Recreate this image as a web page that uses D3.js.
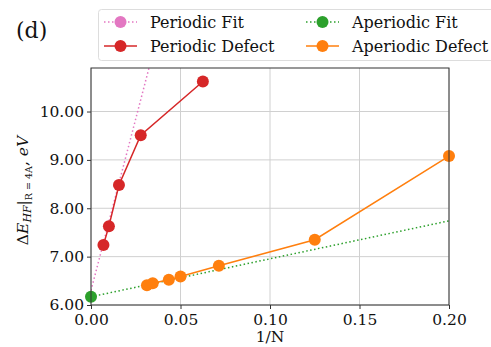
<!DOCTYPE html>
<html>
<head>
<meta charset="utf-8">
<script src="https://cdn.jsdelivr.net/npm/d3@7"></script>
<style>
  body { margin: 0; background: #fff; }
  svg { display: block; font-family: "DejaVu Serif", serif; }
</style>
</head>
<body>
<svg id="chart" width="491" height="347"></svg>
<script>
// Inverse system size 1/N and HF gap at R = 4A
const periodicInvN = [1/144, 1/100, 1/64, 1/36, 1/16];
const periodicGap = [7.24, 7.63, 8.48, 9.51, 10.62];
const aperiodicInvN = [1/32, 1/29, 1/23, 1/20, 1/14, 1/8, 1/5];
const aperiodicGap = [6.41, 6.45, 6.52, 6.59, 6.81, 7.35, 9.08];
// Linear extrapolations to 1/N -> 0: [intercept, slope]
const periodicFit = [6.30, 142];
const aperiodicFit = [6.17, 7.85];
const xTicks = [0, 0.05, 0.10, 0.15, 0.20];
const yTicks = [6, 7, 8, 9, 10];

const svg = d3.select("#chart");
const m = { left: 91, right: 449, top: 68, bottom: 305 };
const x = d3.scaleLinear().domain([0, 0.2]).range([m.left, m.right]);
const y = d3.scaleLinear().domain([6.0, 10.9]).range([m.bottom, m.top]);

const colors = { pFit: "#e377c2", pDef: "#d62728", aFit: "#2ca02c", aDef: "#ff7f0e" };

svg.append("defs").append("clipPath").attr("id", "plotclip")
  .append("rect").attr("x", m.left).attr("y", m.top)
  .attr("width", m.right - m.left).attr("height", m.bottom - m.top);

// grid
const grid = svg.append("g");
grid.selectAll(".gx").data(xTicks).join("line")
  .attr("x1", d => x(d)).attr("x2", d => x(d)).attr("y1", m.top).attr("y2", m.bottom)
  .attr("stroke", "#d0d0d0").attr("stroke-width", 1);
grid.selectAll(".gy").data(yTicks).join("line")
  .attr("y1", d => y(d)).attr("y2", d => y(d)).attr("x1", m.left).attr("x2", m.right)
  .attr("stroke", "#d0d0d0").attr("stroke-width", 1);

const plot = svg.append("g").attr("clip-path", "url(#plotclip)");
const line = d3.line().x(d => x(d[0])).y(d => y(d[1]));

// fit lines
const fitPts = f => [[0, f[0]], [0.2, f[0] + f[1] * 0.2]];
plot.append("path").datum(fitPts(periodicFit)).attr("d", line)
  .attr("fill", "none").attr("stroke", colors.pFit).attr("stroke-width", 1.5).attr("stroke-dasharray", "1.5,2.5");
plot.append("path").datum(fitPts(aperiodicFit)).attr("d", line)
  .attr("fill", "none").attr("stroke", colors.aFit).attr("stroke-width", 1.5).attr("stroke-dasharray", "1.5,2.5");

// defect series
const pData = periodicInvN.map((v, i) => [v, periodicGap[i]]);
const aData = aperiodicInvN.map((v, i) => [v, aperiodicGap[i]]);
plot.append("path").datum(pData).attr("d", line)
  .attr("fill", "none").attr("stroke", colors.pDef).attr("stroke-width", 1.5);
plot.append("path").datum(aData).attr("d", line)
  .attr("fill", "none").attr("stroke", colors.aDef).attr("stroke-width", 1.5);

const dots = svg.append("g");
dots.selectAll(".pd").data(pData).join("circle")
  .attr("cx", d => x(d[0])).attr("cy", d => y(d[1])).attr("r", 6).attr("fill", colors.pDef);
dots.selectAll(".ad").data(aData).join("circle")
  .attr("cx", d => x(d[0])).attr("cy", d => y(d[1])).attr("r", 6).attr("fill", colors.aDef);
dots.append("circle").attr("cx", x(0)).attr("cy", y(aperiodicFit[0])).attr("r", 6).attr("fill", colors.aFit);

// frame
svg.append("rect").attr("x", m.left).attr("y", m.top)
  .attr("width", m.right - m.left).attr("height", m.bottom - m.top)
  .attr("fill", "none").attr("stroke", "#333").attr("stroke-width", 1);

// axes
const xAxis = d3.axisBottom(x).tickValues(xTicks).tickFormat(d3.format(".2f")).tickSize(4).tickPadding(2);
const yAxis = d3.axisLeft(y).tickValues(yTicks).tickFormat(d3.format(".2f")).tickSize(4).tickPadding(3);
const gx = svg.append("g").attr("transform", `translate(0,${m.bottom})`).call(xAxis);
const gy = svg.append("g").attr("transform", `translate(${m.left},0)`).call(yAxis);
[gx, gy].forEach(g => {
  g.select(".domain").remove();
  g.selectAll("line").attr("stroke", "#333");
  g.selectAll("text").attr("font-family", "DejaVu Serif, serif").attr("font-size", 15.5).attr("fill", "#111");
});
gx.selectAll("text").attr("dy", null).attr("y", 20);

// axis titles
svg.append("text").attr("x", 270).attr("y", 342)
  .attr("text-anchor", "middle").attr("font-size", 15.5).attr("fill", "#111").text("1/N");

const yl = svg.append("text").attr("transform", `translate(28,${(m.top + m.bottom) / 2 + 4}) rotate(-90)`)
  .attr("text-anchor", "middle").attr("font-size", 15.5).attr("fill", "#111");
yl.append("tspan").text("Δ");
yl.append("tspan").attr("font-style", "italic").text("E");
yl.append("tspan").attr("font-style", "italic").attr("font-size", 11).attr("dy", 3).text("HF");
yl.append("tspan").attr("dy", -3).text("|");
yl.append("tspan").attr("font-size", 9.5).attr("dy", 4).text("R = 4A");
yl.append("tspan").attr("dy", -4).text(", ");
yl.append("tspan").attr("font-style", "italic").text("eV");

// panel tag
svg.append("text").attr("x", 16).attr("y", 38).attr("font-size", 22).attr("fill", "#111").text("(d)");

// legend
const lg = svg.append("g");
lg.append("rect").attr("x", 98.5).attr("y", 9.5).attr("width", 400).attr("height", 51).attr("rx", 3)
  .attr("fill", "#fff").attr("stroke", "#ddd");
const items = [
  { label: "Periodic Fit", c: colors.pFit, dash: true, cx: 104, ty: 22 },
  { label: "Periodic Defect", c: colors.pDef, dash: false, cx: 104, ty: 46 },
  { label: "Aperiodic Fit", c: colors.aFit, dash: true, cx: 306, ty: 22 },
  { label: "Aperiodic Defect", c: colors.aDef, dash: false, cx: 306, ty: 46 }
];
items.forEach(it => {
  lg.append("line").attr("x1", it.cx).attr("x2", it.cx + 33).attr("y1", it.ty).attr("y2", it.ty)
    .attr("stroke", it.c).attr("stroke-width", 1.5).attr("stroke-dasharray", it.dash ? "1.5,2.5" : null);
  lg.append("circle").attr("cx", it.cx + 16.5).attr("cy", it.ty).attr("r", 6).attr("fill", it.c);
  lg.append("text").attr("x", it.cx + 46).attr("y", it.ty + 5.5).attr("font-size", 16).attr("fill", "#111").text(it.label);
});
</script>
</body>
</html>
